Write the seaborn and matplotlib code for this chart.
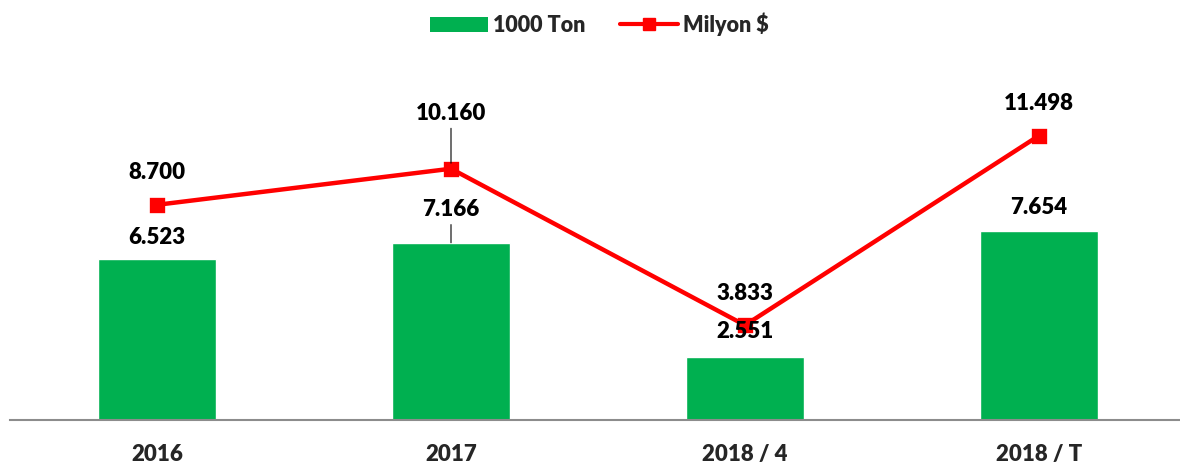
import matplotlib
matplotlib.use("Agg")
import matplotlib.pyplot as plt
import seaborn as sns
from matplotlib.patches import Patch
from matplotlib.lines import Line2D

# data
categories = ["2016", "2017", "2018 / 4", "2018 / T"]
ton_values = [6.523, 7.166, 2.551, 7.654]        # 1000 Ton (bars)
usd_values = [8.700, 10.160, 3.833, 11.498]      # Milyon $ (line)

# label placement (offset in points above the mark) and leader lines
bar_label_offset = [15, 24, 18, 17]
line_label_offset = [23, 40, 23, 23]
bar_leader = [False, True, False, False]
line_leader = [False, True, False, False]

GREEN = "#00B050"
RED = "#FF0000"
WEIGHT = "heavy"

sns.set_theme(style="white")
plt.rcParams["font.family"] = ["Lato", "DejaVu Sans"]
plt.rcParams["font.weight"] = WEIGHT

fig = plt.figure(figsize=(11.8, 4.68), dpi=100)
ax = fig.add_axes([10 / 1180, 48 / 468, 1176 / 1180, 371 / 468])

sns.barplot(x=categories, y=ton_values, color=GREEN, saturation=1, width=0.4, ax=ax)
sns.pointplot(x=categories, y=usd_values, color=RED, markers="s", linestyles="-",
              markersize=9, linewidth=3.2, ax=ax)

ax.set_xlim(-0.5, 3.5)
ax.set_ylim(0, 15)
ax.set_yticks([])
ax.set_xlabel("")
ax.set_ylabel("")
for side in ["top", "right", "left"]:
    ax.spines[side].set_visible(False)
ax.spines["bottom"].set_color("#8C8C8C")
ax.spines["bottom"].set_linewidth(1.5)
ax.tick_params(axis="x", length=0, pad=17, labelsize=16)
for lbl in ax.get_xticklabels():
    lbl.set_fontweight(WEIGHT)

def fmt(v):
    return f"{v:.3f}"

for i, v in enumerate(ton_values):
    arrow = dict(arrowstyle="-", color="black", lw=0.8, shrinkA=1, shrinkB=0) if bar_leader[i] else None
    ax.annotate(fmt(v), xy=(i, v), xytext=(0, bar_label_offset[i]), textcoords="offset points",
                ha="center", va="center", fontsize=16, fontweight=WEIGHT, color="black",
                arrowprops=arrow)

for i, v in enumerate(usd_values):
    arrow = dict(arrowstyle="-", color="black", lw=0.8, shrinkA=1, shrinkB=4) if line_leader[i] else None
    ax.annotate(fmt(v), xy=(i, v), xytext=(0, line_label_offset[i]), textcoords="offset points",
                ha="center", va="center", fontsize=16, fontweight=WEIGHT, color="black",
                arrowprops=arrow, zorder=5)

handles = [
    Patch(facecolor=GREEN, edgecolor="none", label="1000 Ton"),
    Line2D([0], [0], color=RED, lw=3, marker="s", markersize=9, label="Milyon $"),
]
fig.legend(handles=handles, loc="upper center", bbox_to_anchor=(0.508, 1.015), ncol=2,
           frameon=False, handlelength=2.7, columnspacing=1.6,
           handletextpad=0.25, prop={"weight": WEIGHT, "size": 15.5})

fig.savefig("out.png", dpi=100)
